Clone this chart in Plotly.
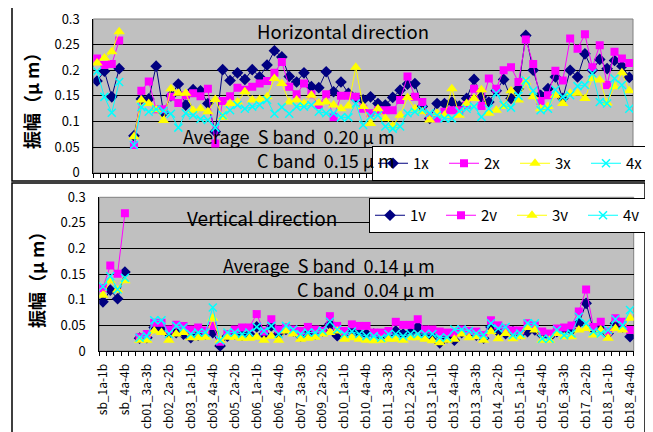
import plotly.graph_objects as go

categories = [
    "sb_1a-1b", "sb_2a-2b", "sb_3a-3b", "sb_4a-4b", "cb01_1a-1b",
    "cb01_2a-2b", "cb01_3a-3b", "cb01_4a-4b", "cb02_1a-1b", "cb02_2a-2b",
    "cb02_3a-3b", "cb02_4a-4b", "cb03_1a-1b", "cb03_2a-2b", "cb03_3a-3b",
    "cb03_4a-4b", "cb04_4a-4b", "cb05_1a-1b", "cb05_2a-2b", "cb05_3a-3b",
    "cb05_4a-4b", "cb06_1a-1b", "cb06_2a-2b", "cb06_3a-3b", "cb06_4a-4b",
    "cb07_1a-1b", "cb07_2a-2b", "cb07_3a-3b", "cb07_4a-4b", "cb09_1a-1b",
    "cb09_2a-2b", "cb09_3a-3b", "cb09_4a-4b", "cb10_1a-1b", "cb10_2a-2b",
    "cb10_3a-3b", "cb10_4a-4b", "cb11_1a-1b", "cb11_2a-2b", "cb11_3a-3b",
    "cb11_4a-4b", "cb12_1a-1b", "cb12_2a-2b", "cb12_3a-3b", "cb12_4a-4b",
    "cb13_1a-1b", "cb13_2a-2b", "cb13_3a-3b", "cb13_4a-4b", "cb13_1a-1b",
    "cb13_2a-2b", "cb13_3a-3b", "cb13_4a-4b", "cb14_1a-1b", "cb14_2a-2b",
    "cb14_3a-3b", "cb14_4a-4b", "cb15_1a-1b", "cb15_2a-2b", "cb15_3a-3b",
    "cb15_4a-4b", "cb16_1a-1b", "cb16_2a-2b", "cb16_3a-3b", "cb16_4a-4b",
    "cb17_1a-1b", "cb17_2a-2b", "cb17_3a-3b", "cb17_4a-4b", "cb18_1a-1b",
    "cb18_2a-2b", "cb18_3a-3b", "cb18_4a-4b",
]
tick_step = 3

# Horizontal direction
h1x = [0.179, 0.198, 0.148, 0.203, None, 0.072, 0.144, 0.144, 0.208, 0.117,
       0.150, 0.173, 0.132, 0.162, 0.160, 0.135, 0.080, 0.201, 0.180, 0.195,
       0.182, 0.201, 0.187, 0.210, 0.238, 0.226, 0.188, 0.177, 0.195, 0.168,
       0.166, 0.197, 0.158, 0.177, 0.155, 0.145, 0.142, 0.148, 0.135, 0.132,
       0.147, 0.161, 0.173, 0.174, 0.129, 0.106, 0.135, 0.135, 0.138, 0.130,
       0.145, 0.182, 0.148, 0.138, 0.160, 0.182, 0.145, 0.164, 0.268, 0.200,
       0.151, 0.164, 0.187, 0.145, 0.200, 0.187, 0.232, 0.200, 0.221, 0.203,
       0.219, 0.208, 0.186]
h2x = [0.223, 0.210, 0.212, 0.258, None, 0.054, 0.160, 0.178, 0.124, 0.124,
       0.148, 0.136, 0.151, 0.155, 0.149, 0.164, 0.057, 0.140, 0.149, 0.166,
       0.162, 0.168, 0.174, 0.179, 0.195, 0.216, 0.168, 0.153, 0.174, 0.153,
       0.132, 0.153, 0.108, 0.150, 0.150, 0.148, 0.125, 0.116, 0.122, 0.122,
       0.122, 0.142, 0.188, 0.148, 0.138, 0.109, 0.106, 0.119, 0.122, 0.122,
       0.132, 0.164, 0.130, 0.184, 0.164, 0.200, 0.206, 0.177, 0.260, 0.212,
       0.140, 0.151, 0.199, 0.180, 0.262, 0.242, 0.270, 0.206, 0.249, 0.171,
       0.236, 0.223, 0.214]
h3x = [0.214, 0.224, 0.236, 0.275, None, 0.070, 0.142, 0.135, 0.123, 0.102,
       0.164, 0.155, 0.155, 0.122, 0.125, 0.119, 0.143, 0.108, 0.135, 0.138,
       0.158, 0.142, 0.143, 0.148, 0.184, 0.174, 0.138, 0.142, 0.135, 0.151,
       0.136, 0.138, 0.132, 0.125, 0.130, 0.206, 0.129, 0.096, 0.125, 0.106,
       0.091, 0.112, 0.147, 0.125, 0.119, 0.103, 0.116, 0.112, 0.164, 0.112,
       0.135, 0.145, 0.162, 0.116, 0.122, 0.129, 0.160, 0.142, 0.177, 0.148,
       0.125, 0.129, 0.151, 0.135, 0.155, 0.155, 0.145, 0.184, 0.181, 0.136,
       0.168, 0.195, 0.160]
h4x = [0.198, 0.148, 0.117, 0.177, None, 0.054, 0.128, 0.119, 0.124, 0.121,
       0.115, 0.088, 0.116, 0.112, 0.105, 0.103, 0.088, 0.112, 0.122, 0.132,
       0.125, 0.129, 0.132, 0.142, 0.115, 0.128, 0.115, 0.129, 0.129, 0.132,
       0.119, 0.116, 0.116, 0.108, 0.108, 0.135, 0.093, 0.110, 0.112, 0.090,
       0.086, 0.090, 0.116, 0.119, 0.123, 0.116, 0.112, 0.106, 0.106, 0.120,
       0.125, 0.129, 0.109, 0.125, 0.155, 0.132, 0.127, 0.150, 0.180, 0.160,
       0.122, 0.125, 0.162, 0.148, 0.151, 0.169, 0.171, 0.194, 0.138, 0.135,
       0.184, 0.171, 0.125]

# Vertical direction
v1v = [0.096, 0.119, 0.102, 0.154, None, 0.025, 0.026, 0.046, 0.042, 0.033,
       0.036, 0.033, 0.026, 0.031, 0.033, 0.036, 0.010, 0.029, 0.033, 0.031,
       0.033, 0.047, 0.033, 0.049, 0.033, 0.042, 0.039, 0.029, 0.036, 0.033,
       0.039, 0.052, 0.030, 0.033, 0.042, 0.033, 0.033, 0.033, 0.029, 0.033,
       0.039, 0.033, 0.036, 0.047, 0.033, 0.028, 0.016, 0.026, 0.021, 0.036,
       0.036, 0.031, 0.025, 0.047, 0.038, 0.034, 0.038, 0.034, 0.038, 0.041,
       0.031, 0.028, 0.038, 0.041, 0.041, 0.054, 0.093, 0.041, 0.044, 0.034,
       0.054, 0.047, 0.028]
v2v = [0.123, 0.167, 0.151, 0.269, None, 0.027, 0.033, 0.055, 0.055, 0.042,
       0.051, 0.049, 0.042, 0.046, 0.040, 0.049, 0.018, 0.033, 0.042, 0.046,
       0.046, 0.072, 0.038, 0.062, 0.042, 0.046, 0.042, 0.039, 0.047, 0.042,
       0.039, 0.068, 0.049, 0.039, 0.052, 0.049, 0.049, 0.036, 0.036, 0.039,
       0.057, 0.051, 0.051, 0.062, 0.042, 0.042, 0.038, 0.036, 0.036, 0.042,
       0.039, 0.038, 0.031, 0.060, 0.050, 0.044, 0.040, 0.040, 0.054, 0.050,
       0.038, 0.034, 0.044, 0.046, 0.050, 0.077, 0.120, 0.047, 0.057, 0.038,
       0.064, 0.057, 0.041]
v3v = [0.109, 0.137, 0.119, 0.137, None, 0.021, 0.021, 0.039, 0.036, 0.021,
       0.033, 0.036, 0.026, 0.026, 0.027, 0.064, 0.021, 0.027, 0.027, 0.025,
       0.025, 0.027, 0.021, 0.029, 0.021, 0.039, 0.033, 0.023, 0.025, 0.027,
       0.033, 0.036, 0.039, 0.023, 0.026, 0.023, 0.021, 0.020, 0.021, 0.023,
       0.023, 0.021, 0.026, 0.026, 0.023, 0.020, 0.016, 0.021, 0.023, 0.033,
       0.026, 0.028, 0.021, 0.038, 0.024, 0.034, 0.024, 0.028, 0.046, 0.041,
       0.021, 0.021, 0.034, 0.028, 0.028, 0.041, 0.044, 0.031, 0.041, 0.025,
       0.044, 0.041, 0.064]
v4v = [0.126, 0.146, 0.120, 0.143, None, 0.026, 0.029, 0.060, 0.060, 0.033,
       0.049, 0.046, 0.033, 0.036, 0.036, 0.085, 0.021, 0.036, 0.036, 0.033,
       0.036, 0.047, 0.039, 0.049, 0.033, 0.049, 0.042, 0.033, 0.036, 0.036,
       0.039, 0.057, 0.042, 0.033, 0.038, 0.033, 0.029, 0.029, 0.026, 0.033,
       0.033, 0.029, 0.033, 0.033, 0.033, 0.033, 0.026, 0.027, 0.042, 0.042,
       0.039, 0.034, 0.031, 0.054, 0.044, 0.047, 0.031, 0.034, 0.054, 0.054,
       0.024, 0.024, 0.041, 0.031, 0.034, 0.067, 0.054, 0.038, 0.034, 0.041,
       0.062, 0.050, 0.080]

# The page body has a default 8px margin; the figure is sized to fit inside it.
OFF = 8
W, H = 653 - OFF, 432 - OFF
FONT = "Noto Sans CJK JP, Noto Sans, sans-serif"
NB = "\u00a0"

def px(x):
    return (x - OFF) / W

def py(y):
    return 1 - (y - OFF) / H

xs = list(range(len(categories)))
styles = [
    dict(color="#000080", symbol="diamond", size=9),
    dict(color="#FF00FF", symbol="square", size=8),
    dict(color="#FFFF00", symbol="triangle-up", size=10),
    dict(color="#00FFFF", symbol="x-thin", size=8),
]

fig = go.Figure()

top_series = [("1x", h1x), ("2x", h2x), ("3x", h3x), ("4x", h4x)]
bot_series = [("1v", v1v), ("2v", v2v), ("3v", v3v), ("4v", v4v)]

def add_series(series, xa, ya, lg):
    for (name, vals), st in zip(series, styles):
        mk = dict(color=st["color"], symbol=st["symbol"], size=st["size"])
        if st["symbol"] == "x-thin":
            mk["line"] = dict(color=st["color"], width=1.5)
        fig.add_trace(go.Scatter(x=xs, y=vals, name=name, mode="lines+markers",
                                 line=dict(color=st["color"], width=1), marker=mk,
                                 xaxis=xa, yaxis=ya, legend=lg, connectgaps=False))

add_series(top_series, "x", "y", "legend")
add_series(bot_series, "x2", "y2", "legend2")

tickvals = xs[::tick_step]
ticktext = categories[::tick_step]

common_x = dict(range=[-0.5, len(categories) - 0.5], showgrid=False, zeroline=False,
                showline=True, linecolor="black", linewidth=1, automargin=False,
                tickmode="array", tickvals=tickvals, ticks="",
                minor=dict(tickmode="linear", tick0=-0.5, dtick=1, ticks="outside",
                           ticklen=4, tickcolor="black", tickwidth=1, showgrid=False))
common_y = dict(range=[0, 0.3], dtick=0.05, tick0=0, showgrid=True, gridcolor="black",
                gridwidth=1, zeroline=False, showline=True, linecolor="black",
                linewidth=1, ticks="", ticklabelstandoff=10, automargin=False,
                tickfont=dict(family=FONT, size=13, color="black"))

legend_common = dict(orientation="h", xanchor="left", yanchor="top",
                     bgcolor="white", bordercolor="black", borderwidth=1,
                     font=dict(family=FONT, size=15, color="black"),
                     itemwidth=30, entrywidth=26, entrywidthmode="pixels",
                     tracegroupgap=0)

fig.update_layout(
    width=W, height=H,
    margin=dict(l=0, r=0, t=0, b=0, autoexpand=False),
    paper_bgcolor="white",
    plot_bgcolor="#C0C0C0",
    font=dict(family=FONT, color="black"),
    showlegend=True,
    xaxis=dict(domain=[px(93.3), px(633)], anchor="y", showticklabels=False, **common_x),
    yaxis=dict(domain=[py(172.7), py(19)], anchor="x", **common_y),
    xaxis2=dict(domain=[px(99.3), px(633.7)], anchor="y2", ticktext=ticktext,
                tickangle=-90, ticklabelstandoff=7,
                tickfont=dict(family=FONT, size=12, color="black"), **common_x),
    yaxis2=dict(domain=[py(351), py(197.3)], anchor="x2", **common_y),
    legend=dict(x=px(372), y=py(146), **legend_common),
    legend2=dict(x=px(369), y=py(198), **legend_common),
)

shapes = [
    dict(type="rect", xref="paper", yref="paper", x0=px(93.3), x1=px(633),
         y0=py(172.7), y1=py(19), line=dict(color="#808080", width=1), layer="below"),
    dict(type="rect", xref="paper", yref="paper", x0=px(99.3), x1=px(633.7),
         y0=py(351), y1=py(197.3), line=dict(color="#808080", width=1), layer="below"),
    dict(type="rect", xref="paper", yref="paper", x0=px(12), x1=px(651),
         y0=py(181), y1=py(6), line=dict(color="black", width=1.5)),
    dict(type="rect", xref="paper", yref="paper", x0=px(12), x1=px(645),
         y0=py(440), y1=py(183), line=dict(color="black", width=1.5)),
]
fig.update_layout(shapes=shapes)

def ann(text, x, y, size, xanchor="center", angle=0):
    return dict(text=text, x=px(x), y=py(y), xref="paper", yref="paper",
                xanchor=xanchor, yanchor="middle", showarrow=False, textangle=angle,
                font=dict(family=FONT, size=size, color="black"))

annotations = [
    ann("Horizontal direction", 343, 31, 18.5),
    ann(f"Average{NB}{NB}S band{NB}{NB}0.20 μ m", 397, 136, 18, "right"),
    ann(f"C band{NB}{NB}0.15 μ m", 397, 160, 18, "right"),
    ann("Vertical direction", 262, 218, 19),
    ann(f"Average{NB}{NB}S band{NB}{NB}0.14 μ m", 437, 265, 18, "right"),
    ann(f"C band{NB}{NB}0.04 μ m", 437, 289, 18, "right"),
    ann("<b>振幅（μ m）</b>", 31, 97, 18, "center", -90),
    ann("<b>振幅（μ m）</b>", 36, 276, 18, "center", -90),
]
fig.update_layout(annotations=annotations)

fig.write_html("out.html")
